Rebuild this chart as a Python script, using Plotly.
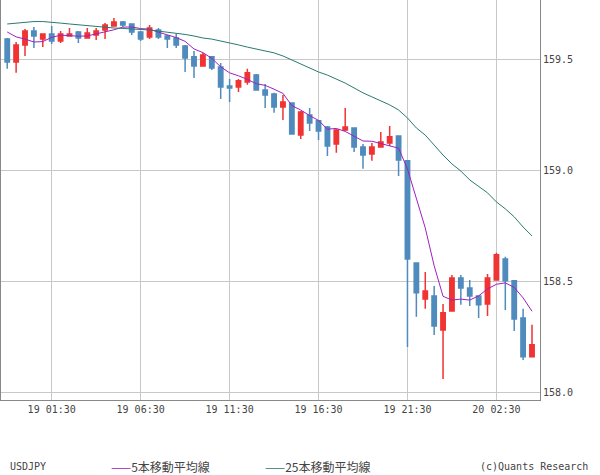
import plotly.graph_objects as go

opens = [159.590,159.487,159.564,159.626,159.590,159.613,159.582,159.604,159.622,159.595,
         159.608,159.631,159.649,159.667,159.658,159.622,159.600,159.631,159.604,159.595,
         159.559,159.510,159.469,159.510,159.464,159.379,159.374,159.397,159.428,159.361,
         159.343,159.284,159.302,159.158,159.248,159.222,159.194,159.118,159.181,159.190,
         159.104,159.073,159.104,159.122,159.154,159.042,158.582,158.420,158.434,158.281,
         158.366,158.515,158.470,158.434,158.398,158.506,158.600,158.502,158.335,158.160]
highs = [159.595,159.577,159.636,159.644,159.613,159.649,159.626,159.640,159.626,159.640,
         159.640,159.662,159.685,159.672,159.658,159.626,159.654,159.640,159.608,159.613,
         159.564,159.536,159.528,159.510,159.482,159.410,159.410,159.456,159.433,159.388,
         159.348,159.338,159.302,159.266,159.280,159.226,159.199,159.186,159.280,159.190,
         159.118,159.122,159.172,159.199,159.154,159.042,158.582,158.542,158.479,158.398,
         158.528,158.528,158.506,158.434,158.533,158.628,158.610,158.502,158.376,158.304]
lows = [159.456,159.438,159.514,159.550,159.554,159.568,159.572,159.604,159.572,159.595,
        159.586,159.590,159.649,159.644,159.608,159.582,159.590,159.590,159.550,159.550,
        159.442,159.415,159.469,159.451,159.320,159.307,159.352,159.384,159.361,159.280,
        159.258,159.226,159.163,159.140,159.176,159.136,159.064,159.078,159.176,159.082,
        159.006,159.042,159.104,159.109,158.974,158.204,158.340,158.376,158.258,158.060,
        158.366,158.394,158.389,158.335,158.344,158.506,158.371,158.276,158.146,158.160]
closes = [159.487,159.564,159.626,159.604,159.613,159.582,159.613,159.613,159.595,159.618,
          159.626,159.654,159.667,159.654,159.622,159.590,159.640,159.600,159.590,159.564,
          159.505,159.469,159.518,159.460,159.374,159.370,159.402,159.438,159.361,159.338,
          159.284,159.307,159.163,159.262,159.212,159.176,159.109,159.181,159.194,159.104,
          159.068,159.104,159.127,159.150,159.046,158.600,158.448,158.456,158.299,158.358,
          158.515,158.470,158.434,158.394,158.515,158.619,158.502,158.330,158.160,158.214]
ma5_head = [159.622,159.600,159.590,159.577]
ma25 = [159.658,159.662,159.667,159.669,159.669,159.667,159.662,159.658,159.654,159.651,
        159.649,159.644,159.640,159.638,159.636,159.636,159.631,159.626,159.622,159.618,
        159.611,159.604,159.595,159.590,159.582,159.575,159.564,159.554,159.546,159.536,
        159.528,159.514,159.496,159.478,159.460,159.442,159.428,159.410,159.392,159.370,
        159.348,159.330,159.312,159.294,159.271,159.235,159.190,159.158,159.113,159.068,
        159.028,158.996,158.956,158.929,158.898,158.857,158.826,158.790,158.744,158.704]
tick_pos = [5, 15, 25, 35, 45, 55]
tick_labels = ["19 01:30", "19 06:30", "19 11:30", "19 16:30", "19 21:30", "20 02:30"]
y_ticks = [158.0, 158.5, 159.0, 159.5]
y_labels = ["158.0", "158.5", "159.0", "159.5"]

n = len(closes)
xs = list(range(n))
ma5 = ma5_head + [sum(closes[i-4:i+1]) / 5 for i in range(4, n)]

BLUE = "#4f8bbd"
RED = "#f03333"
fig = go.Figure()
fig.add_trace(go.Candlestick(
    x=xs, open=opens, high=highs, low=lows, close=closes,
    increasing=dict(line=dict(color=RED, width=1.5), fillcolor=RED),
    decreasing=dict(line=dict(color=BLUE, width=1.5), fillcolor=BLUE),
    whiskerwidth=0, hoverinfo="skip", showlegend=False))
fig.add_trace(go.Scatter(x=xs, y=ma5, mode="lines", line=dict(color="#a020c0", width=1), showlegend=False, hoverinfo="skip"))
fig.add_trace(go.Scatter(x=xs, y=ma25, mode="lines", line=dict(color="#2a7a70", width=1), showlegend=False, hoverinfo="skip"))

font = dict(family="DejaVu Sans Mono", size=10, color="#444")
cjk = dict(family="Noto Sans CJK JP", size=12, color="#444")
fig.update_layout(
    width=600, height=475, margin=dict(l=1, r=60, t=0, b=75, autoexpand=False),
    paper_bgcolor="white", plot_bgcolor="white", font=font,
    xaxis=dict(range=[-0.7, 59.9], tickvals=tick_pos, ticktext=tick_labels, automargin=False,
               showgrid=True, gridcolor="#c8c8c8", zeroline=False, rangeslider=dict(visible=False),
               showline=True, linecolor="#888", mirror=True, ticks="", tickfont=font),
    yaxis=dict(range=[157.9655, 159.766], side="right", tickvals=y_ticks, ticktext=y_labels,
               automargin=False, showgrid=True, gridcolor="#c8c8c8", zeroline=False,
               showline=True, linecolor="#888", mirror=True, ticks="", tickfont=font),
    annotations=[
        dict(xref="paper", yref="paper", x=0.0, y=-0.165, xanchor="left", yanchor="middle",
             xshift=7, text="USDJPY", showarrow=False, font=font),
        dict(xref="paper", yref="paper", x=0.0, y=-0.165, xanchor="left", yanchor="middle",
             xshift=108, text="<span style='color:#a020c0'>——</span>5本移動平均線", showarrow=False, font=cjk),
        dict(xref="paper", yref="paper", x=0.0, y=-0.165, xanchor="left", yanchor="middle",
             xshift=262, text="<span style='color:#2a7a70'>——</span>25本移動平均線", showarrow=False, font=cjk),
        dict(xref="paper", yref="paper", x=1.0, y=-0.165, xanchor="right", yanchor="middle",
             xshift=50, text="(c)Quants Research", showarrow=False, font=font),
    ],
)
fig.write_html("out.html", config={"displayModeBar": False},
               post_script="document.body.style.margin='0';document.body.style.overflow='hidden';")
